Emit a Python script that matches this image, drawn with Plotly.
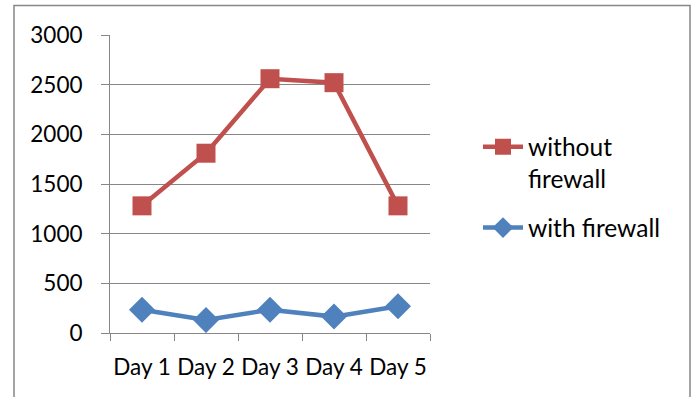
import plotly.graph_objects as go

days = ["Day 1", "Day 2", "Day 3", "Day 4", "Day 5"]
without_fw = [1280, 1810, 2560, 2520, 1280]
with_fw = [235, 130, 235, 165, 270]
y_ticks = [0, 500, 1000, 1500, 2000, 2500, 3000]

RED = "#C0504D"
BLUE = "#4F81BD"
GRID = "#878787"
FONT = "Lato, Carlito, 'Liberation Sans', sans-serif"

fig = go.Figure()
fig.add_trace(go.Scatter(
    x=days, y=without_fw, name="without<br>firewall", mode="lines+markers",
    legendgroup="g1",
    line=dict(color=RED, width=4.5),
    marker=dict(symbol="square", size=19, color=RED),
))
fig.add_trace(go.Scatter(
    x=days, y=with_fw, name="with firewall", mode="lines+markers",
    legendgroup="g2",
    line=dict(color=BLUE, width=4.5),
    marker=dict(symbol="diamond", size=20, color=BLUE),
))

fig.update_layout(
    width=695, height=397,
    margin=dict(l=110, r=265, t=35, b=64),
    paper_bgcolor="white", plot_bgcolor="white",
    font=dict(family=FONT, size=22.5, color="black"),
    legend=dict(x=1.15, y=0.70, xanchor="left", yanchor="top",
                valign="top", tracegroupgap=14, itemwidth=40,
                font=dict(size=24.5), traceorder="grouped"),
    xaxis=dict(type="category", range=[-0.5, 4.5], tickson="boundaries",
               ticks="outside", ticklen=7, tickcolor=GRID, tickwidth=1,
               showline=True, linecolor=GRID, linewidth=1, tickangle=0,
               automargin=False, showgrid=False, ticklabelstandoff=14),
    yaxis=dict(range=[0, 3000], tickvals=y_ticks, ticks="outside", ticklen=8,
               tickcolor=GRID, showline=True, linecolor=GRID, linewidth=1,
               showgrid=True, gridcolor=GRID, gridwidth=1, zeroline=False,
               automargin=False, ticklabelstandoff=14),
    shapes=[dict(type="rect", xref="paper", yref="paper",
                 x0=(14 - 110) / 320, x1=(690 - 110) / 320,
                 y0=-0.3, y1=(333.5 - 6) / 298,
                 line=dict(color=GRID, width=1.5), layer="below")],
)

fig.write_html("out.html")
